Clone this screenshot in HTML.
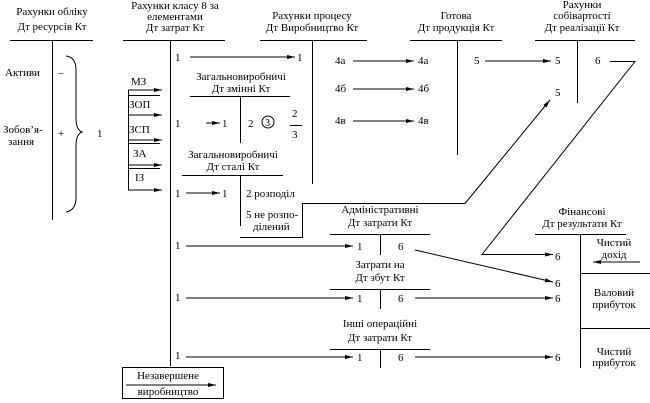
<!DOCTYPE html>
<html><head><meta charset="utf-8"><style>
html,body{margin:0;padding:0;background:#fff;width:650px;height:403px;overflow:hidden}
svg, svg text{font-family:"Liberation Serif","DejaVu Serif","Times New Roman",serif;font-size:11px;fill:#000}
.c{text-anchor:middle}
</style></head><body>
<svg width="650" height="403" viewBox="0 0 650 403" xmlns="http://www.w3.org/2000/svg" font-family="Liberation Serif, DejaVu Serif, serif" font-size="11">
<defs><marker id="a" markerWidth="8" markerHeight="6" refX="8" refY="3" orient="auto" markerUnits="userSpaceOnUse"><path d="M0,1 L8,3 L0,5 Z" fill="#000"/></marker></defs>
<g stroke="#000" stroke-width="1" fill="none">
<line x1="10" y1="40.5" x2="93" y2="40.5"/><line x1="52.5" y1="40" x2="52.5" y2="220"/>
<path d="M66,56 Q76,57 76,70 L76,118 Q76,130 82,132 Q76,134 76,146 L76,198 Q76,210 66,212"/>
<line x1="123" y1="40.5" x2="225" y2="40.5"/><line x1="170.5" y1="40" x2="170.5" y2="366"/>
<line x1="128.5" y1="90" x2="128.5" y2="190"/>
<line x1="128" y1="90" x2="162" y2="90" marker-end="url(#a)"/>
<line x1="128" y1="115" x2="162" y2="115" marker-end="url(#a)"/>
<line x1="128" y1="140" x2="162" y2="140" marker-end="url(#a)"/>
<line x1="128" y1="165" x2="162" y2="165" marker-end="url(#a)"/>
<line x1="128" y1="190" x2="162" y2="190" marker-end="url(#a)"/>
<line x1="128" y1="95.5" x2="160" y2="95.5"/><line x1="128" y1="143.5" x2="160" y2="143.5"/><line x1="128" y1="168.5" x2="160" y2="168.5"/>
<line x1="190" y1="57" x2="295" y2="57" marker-end="url(#a)"/>
<line x1="190" y1="96.5" x2="290" y2="96.5"/><line x1="240.5" y1="96" x2="240.5" y2="143"/>
<line x1="206" y1="123" x2="220" y2="123" marker-end="url(#a)"/>
<circle cx="268" cy="122" r="6"/>
<line x1="290" y1="125.5" x2="302" y2="125.5"/>
<line x1="182" y1="175.5" x2="283" y2="175.5"/><line x1="240.5" y1="175" x2="240.5" y2="226"/>
<line x1="186" y1="193" x2="220" y2="193" marker-end="url(#a)"/>
<line x1="260" y1="40.5" x2="367" y2="40.5"/><line x1="312.5" y1="40" x2="312.5" y2="184"/>
<line x1="353" y1="61" x2="414" y2="61" marker-end="url(#a)"/>
<line x1="353" y1="89" x2="414" y2="89" marker-end="url(#a)"/>
<line x1="353" y1="121" x2="414" y2="121" marker-end="url(#a)"/>
<polyline points="240,237.5 302.5,237.5 302.5,203.5 465,203.5 550,100" marker-end="url(#a)"/>
<line x1="410" y1="40.5" x2="502" y2="40.5"/><line x1="457.5" y1="40" x2="457.5" y2="155"/>
<line x1="485" y1="61" x2="551" y2="61" marker-end="url(#a)"/>
<line x1="535" y1="40.5" x2="635" y2="40.5"/><line x1="577.5" y1="40" x2="577.5" y2="103"/>
<polyline points="610,61.5 635,61.5 482,254.5 553,254.5" marker-end="url(#a)"/>
<line x1="330" y1="234.5" x2="430" y2="234.5"/><line x1="380.5" y1="234" x2="380.5" y2="255"/>
<line x1="186" y1="246" x2="353" y2="246" marker-end="url(#a)"/>
<line x1="415" y1="250" x2="553" y2="282" marker-end="url(#a)"/>
<line x1="330" y1="289.5" x2="430" y2="289.5"/><line x1="380.5" y1="289" x2="380.5" y2="309"/>
<line x1="186" y1="298" x2="353" y2="298" marker-end="url(#a)"/>
<line x1="415" y1="298" x2="553" y2="298" marker-end="url(#a)"/>
<line x1="330" y1="349.5" x2="430" y2="349.5"/><line x1="380.5" y1="349" x2="380.5" y2="368"/>
<line x1="186" y1="357" x2="353" y2="357" marker-end="url(#a)"/>
<line x1="415" y1="357" x2="553" y2="357" marker-end="url(#a)"/>
<line x1="535" y1="234.5" x2="626" y2="234.5"/><line x1="580.5" y1="234" x2="580.5" y2="368"/>
<line x1="580" y1="273.5" x2="650" y2="273.5"/><line x1="580" y1="328.5" x2="650" y2="328.5"/>
<line x1="640" y1="262" x2="593" y2="262" marker-end="url(#a)"/>
<rect x="122.5" y="367.5" width="101" height="31"/>
<line x1="126" y1="385" x2="216" y2="385" marker-end="url(#a)"/>
</g>
<text class="c" x="52" y="15">Рахунки обліку</text><text class="c" x="52" y="30">Дт ресурсів Кт</text>
<text x="5" y="76">Активи</text><text x="58" y="76">–</text>
<text x="3" y="133">Зобов’я-</text><text x="8" y="145">зання</text><text x="58" y="137">+</text>
<text x="97" y="137">1</text>
<text class="c" x="175" y="9">Рахунки класу 8 за</text><text class="c" x="175" y="20">елементами</text><text class="c" x="175" y="31">Дт затрат Кт</text>
<text x="131" y="85">МЗ</text><text x="129" y="108">ЗОП</text><text x="129" y="133">ЗСП</text><text x="133" y="157">ЗА</text><text x="135" y="181">ІЗ</text>
<text x="175" y="61">1</text><text x="297" y="61">1</text>
<text class="c" x="241" y="80">Загальновиробничі</text><text class="c" x="241" y="92">Дт змінні Кт</text>
<text x="175" y="127">1</text><text x="222" y="127">1</text><text x="248" y="127">2</text><text x="265" y="126" style="font-size:10px">3</text>
<text x="292" y="117">2</text><text x="292" y="138">3</text>
<text class="c" x="233" y="158">Загальновиробничі</text><text class="c" x="233" y="170">Дт сталі Кт</text>
<text x="175" y="197">1</text><text x="222" y="197">1</text><text x="246" y="197">2 розподіл</text>
<text x="246" y="218">5 не розпо-</text><text x="253" y="230">ділений</text>
<text class="c" x="312" y="19">Рахунки процесу</text><text class="c" x="312" y="31">Дт Виробництво Кт</text>
<text x="335" y="64">4а</text><text x="418" y="64">4а</text>
<text x="335" y="92">4б</text><text x="418" y="92">4б</text>
<text x="335" y="124">4в</text><text x="418" y="124">4в</text>
<text class="c" x="456" y="19">Готова</text><text class="c" x="456" y="31">Дт продукція Кт</text>
<text x="474" y="64">5</text><text x="555" y="64">5</text><text x="555" y="96">5</text><text x="595" y="64">6</text>
<text class="c" x="582" y="8">Рахунки</text><text class="c" x="582" y="19">собівартості</text><text class="c" x="582" y="31">Дт реалізації Кт</text>
<text class="c" x="380" y="213">Адміністративні</text><text class="c" x="380" y="226">Дт затрати Кт</text>
<text x="175" y="249">1</text><text x="357" y="250">1</text><text x="398" y="250">6</text>
<text class="c" x="380" y="268">Затрати на</text><text class="c" x="380" y="281">Дт збут Кт</text>
<text x="175" y="301">1</text><text x="357" y="302">1</text><text x="398" y="302">6</text>
<text class="c" x="380" y="327">Інші операційні</text><text class="c" x="380" y="341">Дт затрати Кт</text>
<text x="175" y="359">1</text><text x="357" y="361">1</text><text x="398" y="361">6</text>
<text x="555" y="260">6</text><text x="555" y="287">6</text><text x="555" y="302">6</text><text x="555" y="361">6</text>
<text class="c" x="582" y="215">Фінансові</text><text class="c" x="582" y="227">Дт результати Кт</text>
<text class="c" x="614" y="246">Чистий</text><text class="c" x="614" y="258">дохід</text>
<text class="c" x="614" y="296">Валовий</text><text class="c" x="614" y="308">прибуток</text>
<text class="c" x="614" y="355">Чистий</text><text class="c" x="614" y="366">прибуток</text>
<text class="c" x="168" y="379">Незавершене</text><text class="c" x="168" y="395">виробництво</text>
</svg>
</body></html>
